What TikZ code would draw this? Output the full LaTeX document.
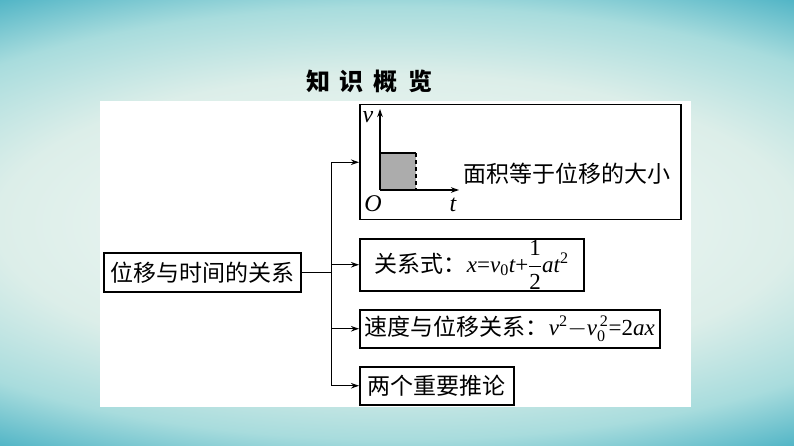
\documentclass[tikz,border=0pt]{standalone}
\usepackage{amsmath}
\usepackage{fontspec}
\usetikzlibrary{arrows.meta,positioning}
\newfontfamily\cjk{Noto Sans CJK SC}
\newfontfamily\tms{Liberation Serif}
\newcommand{\mi}[1]{\text{\tms\itshape #1}}
\newcommand{\mr}[1]{\text{\tms #1}}
\definecolor{bgin}{HTML}{E8F4F0}
\definecolor{bgpale}{HTML}{DCEEE9}
\definecolor{bgmid}{HTML}{A8DCDD}
\definecolor{bgout}{HTML}{4DB3C5}
\pgfdeclareradialshading{bgshade}{\pgfpoint{0bp}{0bp}}{color(0bp)=(bgin); color(6bp)=(bgin); color(11bp)=(bgpale); color(16bp)=(bgmid); color(20bp)=(bgout); color(50bp)=(bgout)}

\tikzset{
  box/.style={draw, line width=1.5pt, inner sep=0pt, anchor=north west, font=\cjk\fontsize{23}{23}\selectfont},
  txt/.style={inner sep=0pt, font=\cjk\fontsize{23}{23}\selectfont},
  lbl/.style={inner sep=0pt, font=\tms\itshape\fontsize{24}{24}\selectfont},
  arr/.style={line width=1.4pt, -{Stealth[length=8pt,width=5.5pt]}},
}

\begin{document}
\begin{tikzpicture}[x=1pt,y=-1pt]
			\useasboundingbox (0,0) rectangle (794,446);
			\begin{scope}
				\clip (0,0) rectangle (794,446);
				\fill[bgout] (0,0) rectangle (794,446);
				\shade[shading=bgshade] (397,223) ellipse (910 and 338);
			\end{scope}
			\fill[white] (100,101) rectangle (691,407);
			\node[font=\cjk\bfseries\fontsize{24}{24}\selectfont] (title) at (369,81) {知\hspace{10pt}识\hspace{10pt}概\hspace{10pt}览};
			% boxes
			\node[box, minimum width=197, minimum height=39] (rel) at (103,252) {位移与时间的关系};
			\node[box, minimum width=321, minimum height=115] (graph) at (359,104) {};
			\node[box, minimum width=224, minimum height=52] (formula) at (359,238) {关系式：$\mi{x}\mr{=}\mi{v}_{\mr{0}}\mi{t}\mr{+}\dfrac{\mr{1}}{\mr{2}}\mi{at}^{\mr{2}}$};
			\node[box, minimum width=300, minimum height=38] (speed) at (359,309) {速度与位移关系：$\mi{v}^{\mr{2}}{-}\mi{v}_{\mr{0}}^{\,\mr{2}}\mr{=}\mr{2}\mi{ax}$};
			\node[box, minimum width=154, minimum height=38] (infer) at (359,366) {两个重要推论};
			% v-t graph
			\coordinate (o) at (380,190);
			\coordinate (vtip) at (380,109);
			\coordinate (ttip) at (459,190);
			\fill[gray!65] (o) rectangle (416,153);
			\draw[line width=1.5pt] (380,153) -- (416,153);
			\draw[line width=1.3pt, dash pattern=on 4pt off 3pt] (416,153) -- (416,190);
			\draw[arr] (o) -- (vtip);
			\draw[arr] (o) -- (ttip);
			\node[lbl] (vlab) at (368,117) {v};
			\node[lbl] (olab) at (373,204) {O};
			\node[lbl] (tlab) at (453,205) {t};
			\node[txt, anchor=west] (area) at (463,174) {面积等于位移的大小};
			% connectors
			\coordinate (jn) at ([xshift=30pt]rel.east);
			\draw[line width=1.4pt] (rel.east) -- (jn);
			\draw[line width=1.4pt] (jn |- graph.west) -- (jn |- infer.west);
			\foreach \b in {graph,formula,speed,infer}
				\draw[arr] (jn |- \b.west) -- (\b.west);
			\end{tikzpicture}
\end{document}
